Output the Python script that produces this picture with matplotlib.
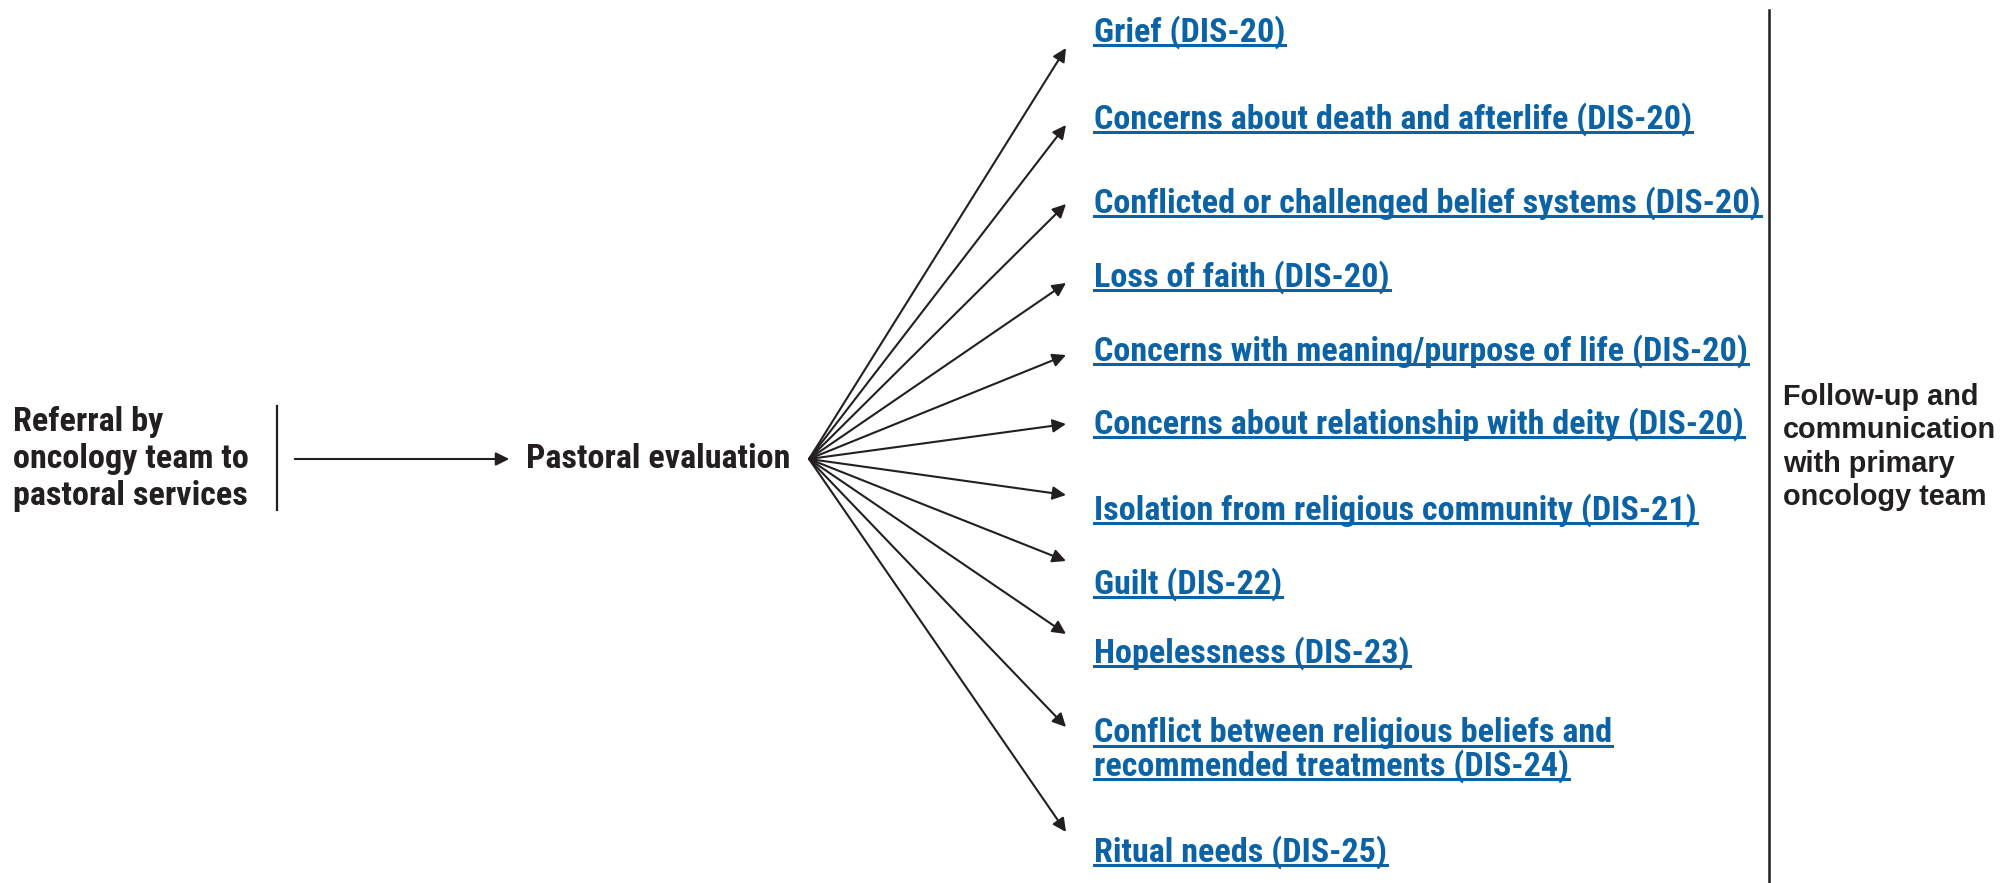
import matplotlib
matplotlib.use('Agg')
import matplotlib.pyplot as plt
from matplotlib import font_manager

# 항목 텍스트 (파란 링크)
items = [
    "Grief (DIS-20)",
    "Concerns about death and afterlife (DIS-20)",
    "Conflicted or challenged belief systems (DIS-20)",
    "Loss of faith (DIS-20)",
    "Concerns with meaning/purpose of life (DIS-20)",
    "Concerns about relationship with deity (DIS-20)",
    "Isolation from religious community (DIS-21)",
    "Guilt (DIS-22)",
    "Hopelessness (DIS-23)",
    "Conflict between religious beliefs and\nrecommended treatments (DIS-24)",
    "Ritual needs (DIS-25)",
]
left_text = "Referral by\noncology team to\npastoral services"
mid_text = "Pastoral evaluation"
right_text = "Follow-up and\ncommunication\nwith primary\noncology team"

# 레이아웃 (픽셀)
label_y = [32, 119, 203, 277, 351, 424, 510, 584, 653, 750, 852]
tip_y = [48, 125, 204, 283, 355, 424, 495, 561, 634, 727, 832]

DARK = '#231f20'
BLUE = '#0b63a5'


def pick(names):
    for n in names:
        try:
            font_manager.findfont(n, fallback_to_default=False)
            return n
        except Exception:
            pass
    return 'DejaVu Sans'


narrow = pick(['Liberation Sans Narrow', 'Roboto Condensed', 'Liberation Sans'])
wide = pick(['Liberation Sans', 'Arial', 'DejaVu Sans'])

fig = plt.figure(figsize=(20.01, 8.83), dpi=100)
ax = fig.add_axes([0, 0, 1, 1])
ax.set_xlim(0, 2001)
ax.set_ylim(883, 0)
ax.axis('off')

fs = 24.6
fs_r = 20.8

ax.text(13, 459, left_text, fontsize=fs, fontweight='bold', family=narrow,
        color=DARK, va='center', ha='left', linespacing=1.2)
ax.plot([277, 277], [406, 510], color=DARK, lw=1.6)
ax.annotate('', xy=(512, 459), xytext=(292, 459),
            arrowprops=dict(arrowstyle='-|>', color=DARK, lw=1.5, mutation_scale=20))
ax.text(526, 459, mid_text, fontsize=fs, fontweight='bold', family=narrow,
        color=DARK, va='center', ha='left')

# 부채꼴 화살표
for ty in tip_y:
    ax.annotate('', xy=(1066, ty), xytext=(809, 459),
                arrowprops=dict(arrowstyle='-|>', color=DARK, lw=1.5,
                                mutation_scale=20, shrinkA=0, shrinkB=0))

texts = []
for lbl, y in zip(items, label_y):
    t = ax.text(1094, y, lbl, fontsize=fs, fontweight='bold', family=narrow,
                color=BLUE, va='center', ha='left', linespacing=1.0)
    texts.append(t)

# 오른쪽 세로선 + 텍스트
ax.plot([1769, 1769], [10, 883], color=DARK, lw=1.8)
ax.text(1783, 447, right_text, fontsize=fs_r, fontweight='bold', family=wide,
        color=DARK, va='center', ha='left', linespacing=1.25)

# 밑줄 그리기
fig.canvas.draw()
r = fig.canvas.get_renderer()
inv = ax.transData.inverted()
for t in texts:
    lines = t.get_text().split('\n')
    bb = t.get_window_extent(r)
    x0, y_top = inv.transform((bb.x0, bb.y1))
    x1, y_bot = inv.transform((bb.x1, bb.y0))
    n = len(lines)
    h = (y_bot - y_top) / n
    for i, ln in enumerate(lines):
        tmp = ax.text(0, 0, ln, fontsize=fs, fontweight='bold', family=narrow)
        w = tmp.get_window_extent(r).width
        tmp.remove()
        yy = y_top + h * (i + 1) - h * 0.12
        ax.plot([x0, x0 + w], [yy, yy], color=BLUE, lw=2.2)

fig.savefig('out.png', dpi=100)
